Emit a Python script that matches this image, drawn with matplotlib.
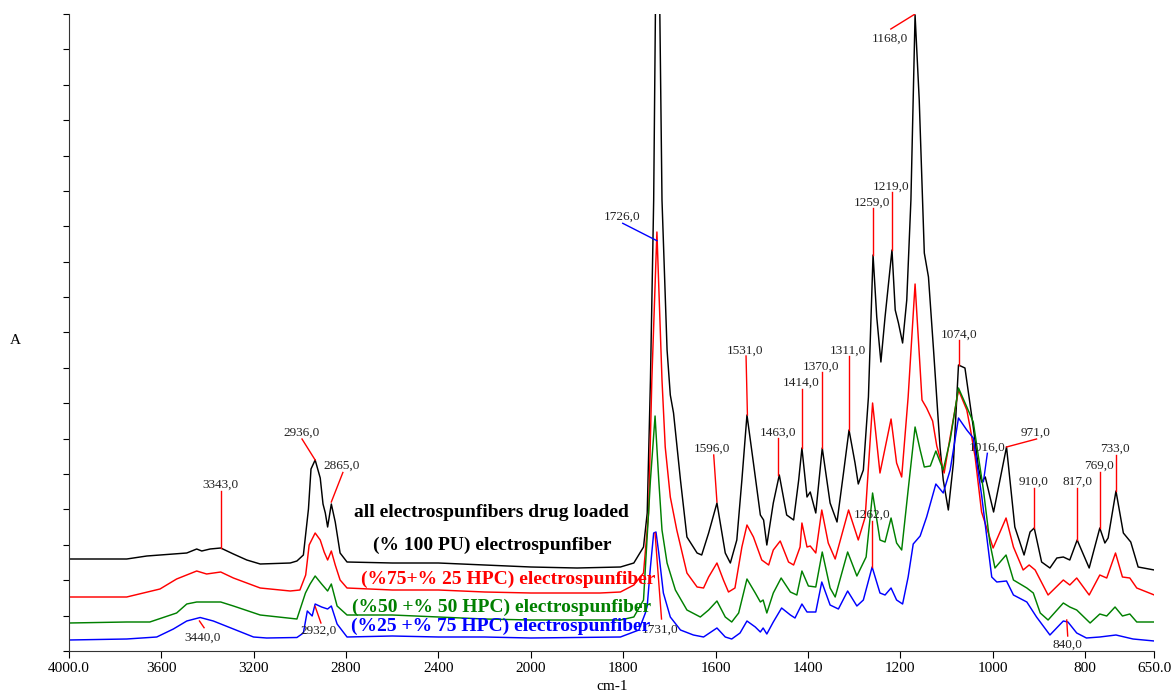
import numpy as np
import matplotlib.pyplot as plt

plt.rcParams['font.family'] = ['Liberation Serif', 'DejaVu Serif']

# spectra: wavenumber (cm-1) and absorbance (arb. units)
black_wn = [4000, 3750, 3663, 3490, 3447, 3425, 3389, 3343, 3288, 3230, 3172, 3042, 3013, 2985,
            2963, 2952, 2934, 2912, 2900, 2890, 2880, 2864, 2847, 2826, 2796, 2600, 2400, 2200,
            2000, 1900, 1806, 1777, 1756, 1748, 1741, 1734, 1726, 1716, 1705, 1698, 1691, 1676,
            1662, 1640, 1630, 1615, 1597, 1579, 1568, 1554, 1543, 1532, 1518, 1503, 1496, 1489,
            1475, 1462, 1446, 1431, 1420, 1413, 1402, 1395, 1383, 1369, 1352, 1337, 1323, 1311,
            1298, 1291, 1280, 1269, 1259, 1251, 1242, 1233, 1218, 1211, 1204, 1195, 1186, 1177,
            1168, 1159, 1148, 1139, 1128, 1114, 1107, 1096, 1085, 1074, 1060, 1042, 1031, 1024,
            1016, 998, 970, 952, 932, 919, 910, 894, 876, 861, 847, 833, 817, 791, 768, 757, 750,
            733, 717, 701, 685, 650]
black_a = [0.92, 0.92, 0.95, 0.98, 1.02, 1.00, 1.02, 1.03, 0.97, 0.91, 0.87, 0.88, 0.90, 0.96,
           1.42, 1.82, 1.91, 1.73, 1.47, 1.38, 1.24, 1.47, 1.29, 0.98, 0.89, 0.88, 0.88, 0.86,
           0.84, 0.83, 0.84, 0.88, 1.04, 1.38, 2.71, 4.51, 8.50, 4.51, 3.01, 2.56, 2.38, 1.71,
           1.14, 0.98, 0.96, 1.18, 1.48, 0.98, 0.88, 1.11, 1.71, 2.36, 1.88, 1.36, 1.31, 1.06,
           1.48, 1.76, 1.36, 1.31, 1.71, 2.03, 1.54, 1.59, 1.38, 2.03, 1.48, 1.29, 1.78, 2.21,
           1.88, 1.67, 1.81, 2.54, 3.96, 3.34, 2.89, 3.34, 4.01, 3.41, 3.28, 3.08, 3.51, 4.51,
           6.36, 5.51, 3.98, 3.74, 3.01, 2.04, 1.71, 1.41, 1.88, 2.86, 2.83, 2.24, 1.84, 1.69,
           1.74, 1.39, 2.04, 1.24, 0.96, 1.19, 1.23, 0.89, 0.83, 0.93, 0.94, 0.91, 1.11, 0.83,
           1.23, 1.08, 1.13, 1.60, 1.18, 1.09, 0.84, 0.81]

red_wn = [4000, 3750, 3606, 3534, 3447, 3404, 3343, 3288, 3172, 3042, 3000, 2975, 2960, 2934,
          2912, 2895, 2880, 2864, 2847, 2826, 2796, 2600, 2400, 2200, 2000, 1850, 1806, 1777,
          1756, 1745, 1738, 1727, 1716, 1709, 1698, 1684, 1662, 1640, 1626, 1615, 1597, 1583,
          1572, 1558, 1543, 1532, 1518, 1500, 1485, 1475, 1460, 1442, 1431, 1417, 1413, 1402,
          1395, 1383, 1370, 1356, 1341, 1312, 1291, 1276, 1260, 1244, 1220, 1208, 1197, 1183,
          1168, 1153, 1143, 1130, 1121, 1105, 1092, 1074, 1056, 1049, 1038, 1024, 999, 971,
          955, 934, 921, 908, 880, 847, 833, 818, 791, 768, 753, 734, 719, 703, 688, 650]
red_a = [0.54, 0.54, 0.62, 0.72, 0.80, 0.77, 0.79, 0.73, 0.63, 0.60, 0.61, 0.76, 1.06, 1.18,
         1.11, 0.99, 0.91, 1.00, 0.86, 0.71, 0.63, 0.61, 0.61, 0.59, 0.58, 0.58, 0.59, 0.66,
         0.78, 1.38, 2.71, 4.19, 2.71, 2.04, 1.54, 1.21, 0.78, 0.64, 0.63, 0.74, 0.88, 0.71,
         0.59, 0.63, 1.04, 1.26, 1.14, 0.91, 0.86, 1.01, 1.10, 0.89, 0.86, 1.04, 1.28, 1.04,
         1.05, 0.98, 1.41, 1.08, 0.92, 1.41, 1.11, 1.34, 2.48, 1.78, 2.32, 1.88, 1.74, 2.54,
         3.67, 2.51, 2.43, 2.30, 2.05, 1.78, 2.14, 2.61, 2.41, 2.24, 1.94, 1.39, 1.03, 1.33,
         1.04, 0.81, 0.86, 0.81, 0.56, 0.71, 0.66, 0.73, 0.56, 0.76, 0.73, 0.98, 0.74, 0.73,
         0.63, 0.56]

green_wn = [4000, 3750, 3650, 3534, 3490, 3447, 3343, 3288, 3172, 3013, 2976, 2956, 2934, 2906,
            2880, 2864, 2839, 2796, 2600, 2400, 2200, 2000, 1806, 1777, 1756, 1741, 1731, 1723,
            1716, 1705, 1687, 1662, 1633, 1615, 1597, 1579, 1565, 1550, 1532, 1514, 1503, 1497,
            1489, 1475, 1458, 1438, 1424, 1413, 1399, 1383, 1369, 1352, 1341, 1314, 1294, 1274,
            1260, 1244, 1233, 1220, 1208, 1197, 1183, 1168, 1157, 1148, 1135, 1123, 1107, 1092,
            1074, 1056, 1042, 1020, 1006, 995, 971, 955, 926, 912, 897, 880, 847, 833, 818, 789,
            768, 753, 735, 719, 703, 688, 650]
green_a = [0.28, 0.29, 0.29, 0.38, 0.47, 0.49, 0.49, 0.45, 0.36, 0.32, 0.58, 0.67, 0.75, 0.67,
           0.60, 0.67, 0.45, 0.36, 0.36, 0.34, 0.32, 0.31, 0.31, 0.34, 0.51, 1.71, 2.35, 1.71,
           1.21, 0.88, 0.61, 0.41, 0.34, 0.41, 0.50, 0.34, 0.29, 0.38, 0.72, 0.58, 0.49, 0.51,
           0.38, 0.58, 0.73, 0.59, 0.56, 0.80, 0.65, 0.64, 0.99, 0.63, 0.54, 0.99, 0.75, 0.94,
           1.58, 1.11, 1.09, 1.33, 1.08, 1.01, 1.61, 2.24, 2.01, 1.84, 1.85, 2.00, 1.81, 2.11,
           2.63, 2.44, 2.29, 1.61, 1.08, 0.83, 0.96, 0.71, 0.63, 0.58, 0.38, 0.31, 0.48, 0.44,
           0.41, 0.28, 0.37, 0.35, 0.44, 0.35, 0.37, 0.29, 0.29]

blue_wn = [4000, 3750, 3620, 3548, 3490, 3432, 3375, 3288, 3201, 3144, 3013, 2985, 2968, 2947,
           2934, 2906, 2880, 2864, 2839, 2796, 2600, 2400, 2200, 2000, 1806, 1766, 1752, 1748,
           1741, 1734, 1729, 1723, 1713, 1698, 1676, 1648, 1626, 1597, 1579, 1565, 1547, 1532,
           1514, 1503, 1497, 1489, 1475, 1457, 1438, 1428, 1413, 1402, 1383, 1370, 1352, 1334,
           1314, 1294, 1280, 1261, 1244, 1233, 1220, 1208, 1195, 1183, 1172, 1157, 1143, 1123,
           1107, 1092, 1074, 1056, 1042, 1024, 1002, 991, 970, 955, 926, 905, 876, 847, 837,
           818, 797, 768, 733, 696, 650]
blue_a = [0.11, 0.12, 0.14, 0.22, 0.30, 0.335, 0.30, 0.22, 0.14, 0.13, 0.135, 0.18, 0.40, 0.35,
          0.47, 0.44, 0.42, 0.45, 0.27, 0.14, 0.15, 0.14, 0.14, 0.13, 0.14, 0.21, 0.38, 0.45,
          0.84, 1.18, 1.19, 0.98, 0.58, 0.34, 0.21, 0.16, 0.14, 0.23, 0.14, 0.12, 0.18, 0.30,
          0.24, 0.19, 0.23, 0.17, 0.29, 0.43, 0.36, 0.33, 0.47, 0.39, 0.39, 0.69, 0.46, 0.42,
          0.60, 0.45, 0.51, 0.84, 0.58, 0.56, 0.63, 0.51, 0.47, 0.74, 1.07, 1.15, 1.34, 1.67,
          1.58, 1.81, 2.33, 2.21, 2.13, 1.56, 0.74, 0.69, 0.70, 0.56, 0.49, 0.34, 0.16, 0.30,
          0.29, 0.18, 0.13, 0.14, 0.16, 0.12, 0.10]

# peak labels: text, text x/y, leader line from (x0, y0) to (x1, y1), line colour
peak_labels = [
    ("3343,0", 3346, 1.66, 3343, 1.60, 3343, 1.03, 'red'),
    ("2936,0", 2994, 2.18, 2991, 2.12, 2934, 1.91, 'red'),
    ("2865,0", 2818, 1.85, 2814, 1.785, 2864, 1.49, 'red'),
    ("3440,0", 3421, 0.135, 3435, 0.30, 3415, 0.233, 'red'),
    ("2932,0", 2919, 0.20, 2934, 0.445, 2909, 0.28, 'red'),
    ("1726,0", 1802, 4.34, 1801, 4.277, 1727, 4.103, 'blue'),
    ("1731,0", 1720, 0.21, 1731, 1.177, 1717, 0.32, 'red'),
    ("1596,0", 1607, 2.02, 1604, 1.96, 1597, 1.49, 'red'),
    ("1531,0", 1536, 3.00, 1534, 2.95, 1531, 2.36, 'red'),
    ("1463,0", 1465, 2.18, 1464, 2.127, 1464, 1.76, 'red'),
    ("1414,0", 1415, 2.68, 1413, 2.62, 1413, 2.03, 'red'),
    ("1370,0", 1372, 2.84, 1369, 2.787, 1369, 2.03, 'red'),
    ("1311,0", 1313, 3.00, 1311, 2.95, 1311, 2.21, 'red'),
    ("1262,0", 1262, 1.36, 1261.6, 1.30, 1261.6, 0.84, 'red'),
    ("1259,0", 1261, 4.48, 1259.5, 4.427, 1259.5, 3.96, 'red'),
    ("1219,0", 1220, 4.64, 1218.4, 4.587, 1218.4, 4.01, 'red'),
    ("1168,0", 1223, 6.12, 1220.5, 6.22, 1169, 6.367, 'red'),
    ("1074,0", 1073, 3.16, 1073, 3.11, 1073, 2.86, 'red'),
    ("1016,0", 1012, 2.03, 1011.5, 1.977, 1020, 1.693, 'blue'),
    ("971,0", 907, 2.18, 905, 2.12, 970, 2.04, 'red'),
    ("910,0", 911, 1.69, 910, 1.633, 910, 1.227, 'red'),
    ("817,0", 817, 1.69, 817, 1.633, 817, 1.11, 'red'),
    ("769,0", 770, 1.85, 768, 1.793, 768, 1.227, 'red'),
    ("733,0", 735, 2.02, 733, 1.96, 733, 1.60, 'red'),
    ("840,0", 838, 0.06, 839.6, 0.31, 837.5, 0.15, 'red'),
]

series_titles = [
    ("all electrospunfibers drug loaded", 'black', 2169, 1.383),
    ("(% 100 PU) electrospunfiber", 'black', 2165, 1.053),
    ("(%75+% 25 HPC) electrospunfiber", 'red', 2100, 0.717),
    ("(%50 +% 50 HPC) electrospunfiber", 'green', 2126, 0.437),
    ("(%25 +% 75 HPC) electrospunfiber", 'blue', 2130, 0.243),
]

xtick_vals = [4000, 3600, 3200, 2800, 2400, 2000, 1800, 1600, 1400, 1200, 1000, 800, 650]
xtick_text = ["4000.0", "3600", "3200", "2800", "2400", "2000", "1800", "1600", "1400",
              "1200", "1000", "800", "650.0"]


def forward(w):
    # spectrometer axis: 2x expansion below 2000 cm-1
    w = np.asarray(w, dtype=float)
    return np.where(w <= 2000, w, 2000 + (w - 2000) / 2)


def inverse(f):
    f = np.asarray(f, dtype=float)
    return np.where(f <= 2000, f, 2000 + (f - 2000) * 2)


fig = plt.figure(figsize=(11.73, 6.93), dpi=100)
ax = fig.add_axes([69 / 1173, 42 / 693, 1085.3 / 1173, 637 / 693])
ax.set_xscale('function', functions=(forward, inverse))

for wn, a, c in [(black_wn, black_a, 'black'), (red_wn, red_a, 'red'),
                 (green_wn, green_a, 'green'), (blue_wn, blue_a, 'blue')]:
    ax.plot(wn, a, color=c, lw=1.05, solid_joinstyle='round')

for txt, tx, ty, x0, y0, x1, y1, c in peak_labels:
    ax.plot([x0, x1], [y0, y1], color=c, lw=1.0)
    ax.text(tx, ty, txt, ha='center', va='center', fontsize=9.5, color='#222222')

for txt, c, tx, ty in series_titles:
    ax.text(tx, ty, txt, ha='center', va='center', fontsize=14, fontweight='bold', color=c)

ax.set_xlim(4000, 650)
ax.set_ylim(0, 6.37)
ax.set_xticks(xtick_vals)
ax.set_xticklabels(xtick_text)
ax.set_yticks(np.linspace(0, 6.37, 19))
ax.set_yticklabels([])
ax.tick_params(axis='x', direction='out', length=5, labelsize=11, pad=3)
ax.tick_params(axis='y', direction='out', length=4)
ax.spines['top'].set_visible(False)
ax.spines['right'].set_visible(False)
ax.spines['left'].set_color('#333333')
ax.spines['bottom'].set_color('#333333')

fig.text(15 / 1173, 1 - 341 / 693, 'A', ha='center', va='center', fontsize=11)
fig.text(612 / 1173, 1 - 686 / 693, 'cm-1', ha='center', va='center', fontsize=11)

fig.savefig('out.png', dpi=100)
